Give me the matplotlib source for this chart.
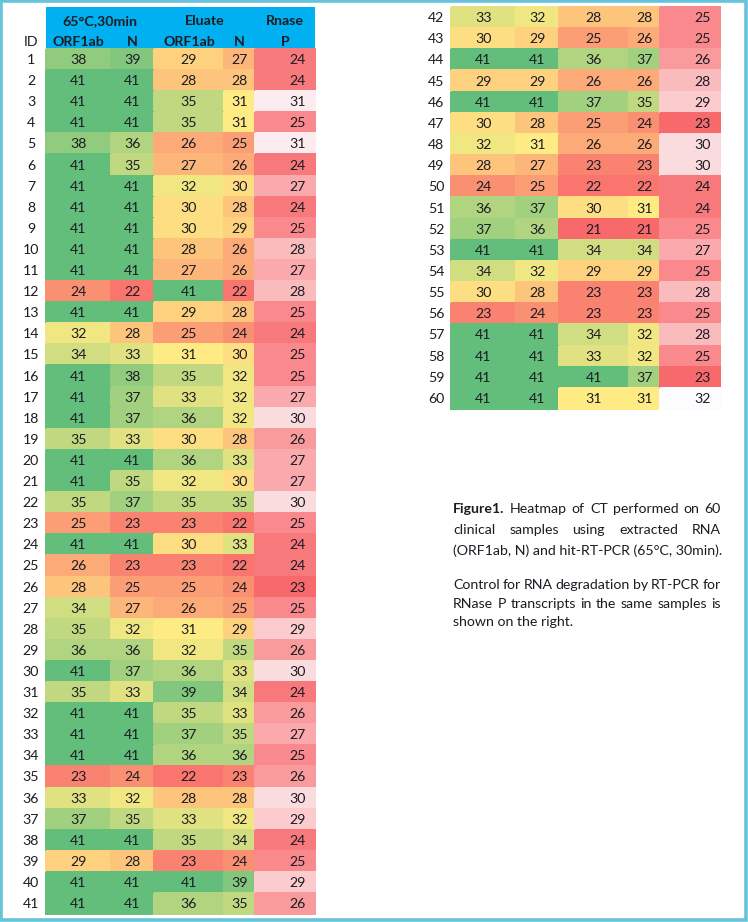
import matplotlib
matplotlib.use("Agg")
import matplotlib.pyplot as plt
import numpy as np
from matplotlib.colors import LinearSegmentedColormap, Normalize
from matplotlib.patches import Rectangle

plt.rcParams['font.family'] = ['Lato', 'DejaVu Sans']

# CT values per sample (ID 1..60)
sample_ids = list(range(1, 61))
orf1ab_65 = [38, 41, 41, 41, 38, 41, 41, 41, 41, 41, 41, 24, 41, 32, 34, 41, 41, 41, 35, 41,
             41, 35, 25, 41, 26, 28, 34, 35, 36, 41, 35, 41, 41, 41, 23, 33, 37, 41, 29, 41,
             41, 33, 30, 41, 29, 41, 30, 32, 28, 24, 36, 37, 41, 34, 30, 23, 41, 41, 41, 41]
n_65 = [39, 41, 41, 41, 36, 35, 41, 41, 41, 41, 41, 22, 41, 28, 33, 38, 37, 37, 33, 41,
        35, 37, 23, 41, 23, 25, 27, 32, 36, 37, 33, 41, 41, 41, 24, 32, 35, 41, 28, 41,
        41, 32, 29, 41, 29, 41, 28, 31, 27, 25, 37, 36, 41, 32, 28, 24, 41, 41, 41, 41]
orf1ab_eluate = [29, 28, 35, 35, 26, 27, 32, 30, 30, 28, 27, 41, 29, 25, 31, 35, 33, 36, 30, 36,
                 32, 35, 23, 30, 23, 25, 26, 31, 32, 36, 39, 35, 37, 36, 22, 28, 33, 35, 23, 41,
                 36, 28, 25, 36, 26, 37, 25, 26, 23, 22, 30, 21, 34, 29, 23, 23, 34, 33, 41, 31]
n_eluate = [27, 28, 31, 31, 25, 26, 30, 28, 29, 26, 26, 22, 28, 24, 30, 32, 32, 32, 28, 33,
            30, 35, 22, 33, 22, 24, 25, 29, 35, 33, 34, 33, 35, 36, 23, 28, 32, 34, 24, 39,
            35, 28, 26, 37, 26, 35, 24, 26, 23, 22, 31, 21, 34, 29, 23, 23, 32, 32, 37, 31]
rnase_p = [24, 24, 31, 25, 31, 24, 27, 24, 25, 28, 27, 28, 25, 24, 25, 25, 27, 30, 26, 27,
           27, 30, 25, 24, 24, 23, 25, 29, 26, 30, 24, 26, 27, 25, 26, 30, 29, 24, 25, 29,
           26, 25, 25, 26, 28, 29, 23, 30, 30, 24, 24, 25, 27, 25, 28, 25, 28, 25, 23, 32]

group_labels = ["65°C,30min", "Eluate", "Rnase"]
col_labels = ["ORF1ab", "N", "ORF1ab", "N", "P"]
caption_p1 = [["Figure1.", "Heatmap", "of", "CT", "performed", "on", "60"],
              ["clinical", "samples", "using", "extracted", "RNA"],
              ["(ORF1ab, N) and hit-RT-PCR (65°C, 30min)."]]
caption_p2 = [["Control", "for", "RNA", "degradation", "by", "RT-PCR", "for"],
              ["RNase", "P", "transcripts", "in", "the", "same", "samples", "is"],
              ["shown on the right."]]

ct = np.array([orf1ab_65, n_65, orf1ab_eluate, n_eluate]).T
rp = np.array(rnase_p)[:, None]

# Excel-like colour scales (red - yellow - green, white - red)
cmap_ct = LinearSegmentedColormap.from_list("ryg", ["#F8696B", "#FFEB84", "#63BE7B"])
norm_ct = Normalize(vmin=ct.min(), vmax=ct.max())
cmap_rp = LinearSegmentedColormap.from_list("rw", ["#F8696B", "#FCFCFF"])
norm_rp = Normalize(vmin=rp.min(), vmax=rp.max())

W, H = 748, 922
fig = plt.figure(figsize=(W / 100, H / 100), dpi=100)
ax = fig.add_axes([0, 0, 1, 1])
ax.set_xlim(0, W)
ax.set_ylim(H, 0)
ax.axis("off")

col_edges = np.array([46, 111, 154, 224, 255, 315])
txt = "#1c1c24"
fs = 10.2


def draw_block(rows, x_off, y0, rh):
    n = len(rows)
    y_edges = y0 + rh * np.arange(n + 1)
    xe = col_edges + x_off
    ax.pcolormesh(xe[:5], y_edges, ct[rows], cmap=cmap_ct, norm=norm_ct,
                  shading="flat", edgecolors="face", linewidth=0.3)
    ax.pcolormesh(xe[4:], y_edges, rp[rows], cmap=cmap_rp, norm=norm_rp,
                  shading="flat", edgecolors="face", linewidth=0.3)
    centers = (xe[:-1] + xe[1:]) / 2
    for i, r in enumerate(rows):
        yc = (y_edges[i] + y_edges[i + 1]) / 2 + 0.5
        ax.text(x_off + 31, yc, str(sample_ids[r]), ha="center", va="center",
                fontsize=fs, color=txt)
        for j in range(4):
            ax.text(centers[j], yc, str(ct[r, j]), ha="center", va="center",
                    fontsize=fs, color=txt)
        ax.text(xe[5] - 9, yc, str(rp[r, 0]), ha="right", va="center",
                fontsize=fs, color=txt)


# header
ax.add_patch(Rectangle((46, 7), 315 - 46, 42, facecolor="#00B0F0", edgecolor="none"))
ax.text(100, 21, group_labels[0], ha="center", va="center", fontsize=fs,
        fontweight="bold", color=txt)
ax.text(204.5, 21, group_labels[1], ha="center", va="center", fontsize=fs,
        fontweight="bold", color=txt)
ax.text(285, 21, group_labels[2], ha="center", va="center", fontsize=fs,
        fontweight="bold", color=txt)
ax.text(31, 42, "ID", ha="center", va="center", fontsize=fs, color=txt)
hc = (col_edges[:-1] + col_edges[1:]) / 2
for j, lab in enumerate(col_labels):
    ax.text(hc[j], 42, lab, ha="center", va="center", fontsize=fs,
            fontweight="bold", color=txt)

draw_block(list(range(0, 41)), 0, 49, 21.1)
draw_block(list(range(41, 60)), 405, 7, 21.16)

# caption with justified lines
renderer = fig.canvas.get_renderer()


def caption_line(words, y, x0, x1, justify, bold_first=False):
    ts = []
    for k, w in enumerate(words):
        wt = "bold" if (bold_first and k == 0) else "normal"
        ts.append(ax.text(x0, y, w, ha="left", va="center", fontsize=fs,
                          fontweight=wt, color=txt))
    if len(ts) == 1:
        return
    widths = [t.get_window_extent(renderer).width for t in ts]
    if justify:
        gap = (x1 - x0 - sum(widths)) / (len(ts) - 1)
    else:
        gap = 3.5
    x = x0
    for t, w in zip(ts, widths):
        t.set_x(x)
        x += w + gap


ys1 = [509, 530, 551]
for k, words in enumerate(caption_p1):
    caption_line(words, ys1[k], 453, 721, justify=(k < 2), bold_first=(k == 0))
ys2 = [585, 604, 622]
for k, words in enumerate(caption_p2):
    caption_line(words, ys2[k], 453, 721, justify=(k < 2))

# frame
ax.add_patch(Rectangle((1.2, 1.2), W - 3.4, H - 3.4, facecolor="none",
                       edgecolor="#66C3DA", linewidth=2.6))

fig.savefig("out.png", dpi=100)
